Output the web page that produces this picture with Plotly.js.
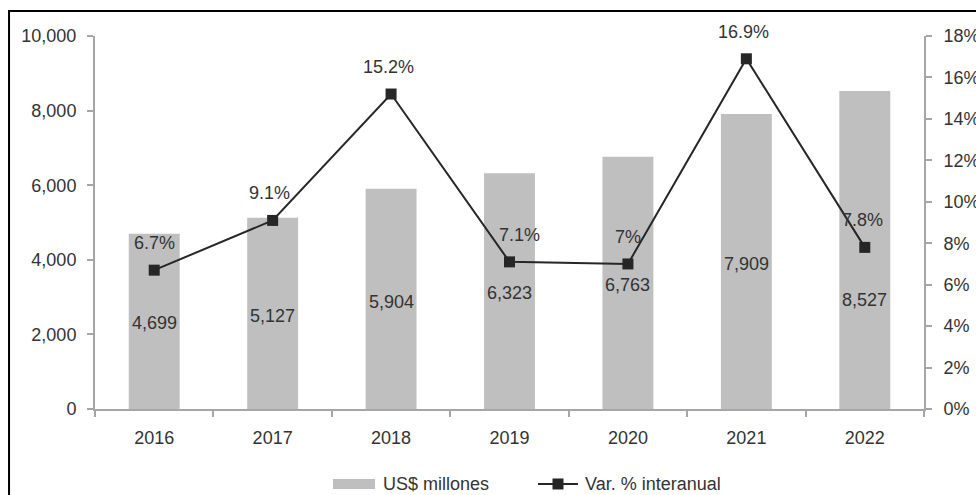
<!DOCTYPE html>
<html>
<head>
<meta charset="utf-8">
<script src="https://cdn.plot.ly/plotly-3.0.1.min.js"></script>
<style>
  html, body { margin: 0; padding: 0; background: #fff; overflow: hidden; }
  #chart { width: 976px; height: 495px; }
</style>
</head>
<body>
<div id="chart"></div>
<script>
// ---- data ----
const years = ['2016', '2017', '2018', '2019', '2020', '2021', '2022'];
const usdMillones = [4699, 5127, 5904, 6323, 6763, 7909, 8527];
const varInteranual = [6.7, 9.1, 15.2, 7.1, 7.0, 16.9, 7.8];
const pctLabels = ['6.7%', '9.1%', '15.2%', '7.1%', '7%', '16.9%', '7.8%'];
const seriesNames = ['US$ millones', 'Var. % interanual'];

// ---- label offsets (pixels, styling only) ----
const barLabelShift = [-2, -3, -3, -2, -2, -2, -50];
const pctLabelXShift = [0, -3, -3, 10, 0, -3, -2];
const pctLabelYShift = 27;

const txt = '#333333';
const axisGray = '#a6a6a6';
const barGray = '#bfbfbf';
const lineDark = '#262626';
const fontFam = 'Liberation Sans, Arial, sans-serif';

const bars = {
  type: 'bar',
  name: seriesNames[0],
  x: years,
  y: usdMillones,
  marker: { color: barGray },
  hoverinfo: 'skip',
  showlegend: false
};

const line = {
  type: 'scatter',
  mode: 'lines+markers',
  name: seriesNames[1],
  x: years,
  y: varInteranual,
  yaxis: 'y2',
  line: { color: lineDark, width: 2 },
  marker: { symbol: 'square', size: 11, color: lineDark },
  hoverinfo: 'skip',
  showlegend: false
};

const annos = [];
for (let i = 0; i < years.length; i++) {
  annos.push({
    x: i, y: usdMillones[i] / 2, xref: 'x', yref: 'y',
    text: usdMillones[i].toLocaleString('en-US'),
    showarrow: false, yshift: barLabelShift[i],
    font: { size: 18, color: txt, family: fontFam }
  });
  annos.push({
    x: i, y: varInteranual[i], xref: 'x', yref: 'y2',
    text: pctLabels[i],
    showarrow: false, yshift: pctLabelYShift, xshift: pctLabelXShift[i],
    font: { size: 18, color: txt, family: fontFam }
  });
}

// ---- manual legend (paper coordinates below the plot) ----
const legY = -0.201;
annos.push({
  x: 0.345, y: legY, xref: 'paper', yref: 'paper', xanchor: 'left', yanchor: 'middle',
  text: seriesNames[0], showarrow: false, font: { size: 18, color: txt, family: fontFam }
});
annos.push({
  x: 0.5887, y: legY, xref: 'paper', yref: 'paper', xanchor: 'left', yanchor: 'middle',
  text: seriesNames[1], showarrow: false, font: { size: 18, color: txt, family: fontFam }
});

const shapes = [
  // outer frame
  {
    type: 'rect', xref: 'paper', yref: 'paper',
    x0: -0.1037, x1: 1.2, y0: -0.5, y1: 1.067,
    line: { color: '#000000', width: 2 }, fillcolor: 'rgba(0,0,0,0)', layer: 'above'
  },
  // legend: bar swatch
  {
    type: 'rect', xref: 'paper', yref: 'paper',
    x0: 0.2871, x1: 0.3378, ysizemode: 'pixel', yanchor: legY, y0: -5, y1: 5,
    line: { width: 0 }, fillcolor: barGray
  },
  // legend: line
  {
    type: 'line', xref: 'paper', yref: 'paper',
    x0: 0.5344, x1: 0.5826, y0: legY, y1: legY,
    line: { color: lineDark, width: 2 }
  },
  // legend: marker
  {
    type: 'rect', xref: 'paper', yref: 'paper',
    xsizemode: 'pixel', xanchor: 0.5585, x0: -5.5, x1: 5.5,
    ysizemode: 'pixel', yanchor: legY, y0: -5.5, y1: 5.5,
    line: { width: 0 }, fillcolor: lineDark
  }
];

const layout = {
  width: 976,
  height: 495,
  margin: { l: 95, r: 52, t: 36, b: 86 },
  paper_bgcolor: '#ffffff',
  plot_bgcolor: '#ffffff',
  font: { family: fontFam, size: 18, color: txt },
  bargap: 0.57,
  showlegend: false,
  xaxis: {
    type: 'category',
    range: [-0.5, 6.5],
    showline: true, linecolor: axisGray, linewidth: 2,
    ticks: 'outside', tickson: 'boundaries', ticklen: 6, tickcolor: axisGray, tickwidth: 2,
    showgrid: false, zeroline: false,
    ticklabelstandoff: 11,
    tickfont: { size: 18, color: txt }
  },
  yaxis: {
    range: [0, 10000], dtick: 2000, tickformat: ',d',
    showline: true, linecolor: axisGray, linewidth: 2,
    ticks: 'outside', ticklen: 6, tickcolor: axisGray, tickwidth: 2,
    showgrid: false, zeroline: false,
    ticklabelstandoff: 7,
    tickfont: { size: 18, color: txt }
  },
  yaxis2: {
    overlaying: 'y', side: 'right',
    range: [0, 18], dtick: 2, ticksuffix: '%',
    showline: true, linecolor: axisGray, linewidth: 2,
    ticks: 'outside', ticklen: 6, tickcolor: axisGray, tickwidth: 2,
    showgrid: false, zeroline: false,
    ticklabelstandoff: 8,
    tickfont: { size: 18, color: txt }
  },
  annotations: annos,
  shapes: shapes
};

Plotly.newPlot('chart', [bars, line], layout, { staticPlot: true, displayModeBar: false });
</script>
</body>
</html>
